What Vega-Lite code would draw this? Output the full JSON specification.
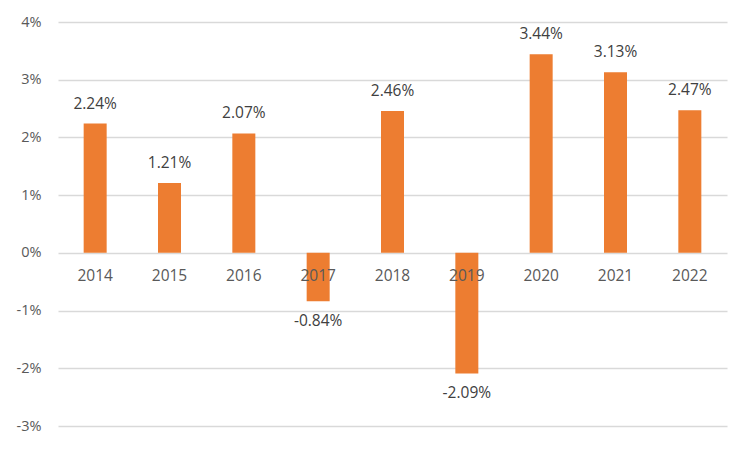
{
  "$schema": "https://vega.github.io/schema/vega-lite/v6.json",
  "width": 669,
  "height": 404,
  "autosize": "none",
  "padding": {"left": 58, "top": 22, "right": 23, "bottom": 23},
  "background": "white",
  "data": {"values": [
    {"year": "2014", "v": 0.0224},
    {"year": "2015", "v": 0.0121},
    {"year": "2016", "v": 0.0207},
    {"year": "2017", "v": -0.0084},
    {"year": "2018", "v": 0.0246},
    {"year": "2019", "v": -0.0209},
    {"year": "2020", "v": 0.0344},
    {"year": "2021", "v": 0.0313},
    {"year": "2022", "v": 0.0247}
  ]},
  "encoding": {
    "x": {"field": "year", "type": "nominal", "scale": {"paddingInner": 0, "paddingOuter": 0}, "axis": null},
    "y": {"field": "v", "type": "quantitative",
      "scale": {"domain": [-0.03, 0.04], "nice": false, "zero": false},
      "axis": {"format": ".0%", "values": [-0.03, -0.02, -0.01, 0, 0.01, 0.02, 0.03, 0.04],
        "title": null, "domain": false, "ticks": false, "labelPadding": 17,
        "labelFont": "Open Sans", "labelFontSize": 14.5, "labelColor": "#595959",
        "gridColor": "#d9d9d9", "gridWidth": 1.5}}
  },
  "layer": [
    {"mark": {"type": "bar", "color": "#ED7D31", "size": 23}},
    {"transform": [{"filter": "datum.v >= 0"}],
     "mark": {"type": "text", "dy": -20, "baseline": "middle", "font": "Open Sans", "fontSize": 15.5, "color": "#404040"},
     "encoding": {"text": {"field": "v", "type": "quantitative", "format": ".2%"}}},
    {"transform": [{"filter": "datum.v < 0"}],
     "mark": {"type": "text", "dy": 20, "baseline": "middle", "font": "Open Sans", "fontSize": 15.5, "color": "#404040"},
     "encoding": {"text": {"field": "v", "type": "quantitative", "format": ".2%"}}},
    {"mark": {"type": "text", "dy": 23, "baseline": "middle", "font": "Open Sans", "fontSize": 15.5, "color": "#595959"},
     "encoding": {"y": {"datum": 0}, "text": {"field": "year"}}}
  ],
  "config": {
    "view": {"stroke": null},
    "locale": {"number": {"decimal": ".", "thousands": ",", "grouping": [3], "currency": ["$", ""], "minus": "-"}}
  }
}
